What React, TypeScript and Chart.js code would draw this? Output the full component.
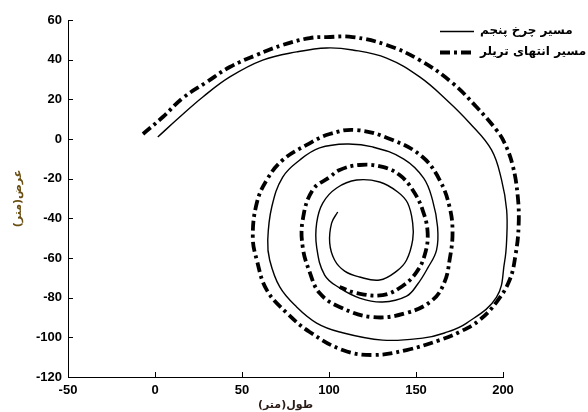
import React, { useEffect, useRef } from "react";
import { Chart, registerables } from "chart.js";

Chart.register(...registerables);

// Axis ticks
const xTickValues = [-50, 0, 50, 100, 150, 200];
const yTickValues = [-120, -100, -80, -60, -40, -20, 0, 20, 40, 60];

// Texts
const seriesLabels = ["مسیر چرخ پنجم", "مسیر انتهای تریلر"];
const xAxisTitle = "طول(متر)";
const yAxisTitle = "عرض(متر)";

// Fifth-wheel path (solid line)
const fifthWheelX = [
  1.6, 14.2, 27.5, 43.0, 61.9, 81.4, 98.7, 113.6, 133.1, 152.1,
  167.6, 180.8, 193.4, 199.2, 202.1, 202.1, 200.9, 196.3, 179.1, 166.4,
  153.8, 130.8, 106.1, 92.9, 81.4, 71.7, 65.9, 64.8, 67.1,
  73.4, 83.2, 94.6, 110.2, 125.1, 143.0, 154.4, 159.5, 162.4, 161.8,
  156.7, 151.0, 144.6, 130.8, 117.6, 106.1, 97.5, 92.9, 92.9, 96.4,
  104.4, 115.9, 129.1, 139.5, 145.2, 148.1, 148.1, 144.6, 138.9, 129.1,
  117.6, 109.0, 103.2, 100.4, 101.5, 105.0,
];
const fifthWheelY = [
  1.0, 11.1, 21.2, 31.3, 39.8, 43.9, 45.9, 44.9, 40.8, 31.3,
  19.7, 8.1, -5.5, -20.7, -35.8, -50.9, -62.0, -79.7, -92.8, -97.8,
  -100.4, -101.4, -97.3, -92.8, -84.7, -74.6, -61.0, -50.9, -34.3,
  -19.2, -10.6, -4.5, -2.5, -4.0, -10.1, -19.7, -30.8, -44.4, -56.0,
  -65.1, -73.1, -79.2, -82.2, -80.2, -75.1, -68.6, -54.5, -42.4, -32.3,
  -24.7, -20.7, -21.7, -26.7, -32.3, -42.4, -50.9, -61.0, -66.6, -71.1,
  -69.6, -66.6, -61.0, -52.4, -42.4, -36.8,
];

// Trailer-end path (dash-dot line)
const trailerX = [
  -6.9, 4.5, 16.0, 29.7, 43.0, 58.5, 73.4, 88.9, 98.7, 113.6,
  133.1, 152.1, 171.0, 184.8, 196.3, 200.9, 205.5, 208.4, 209.0, 207.2,
  203.8, 196.3, 186.5, 175.0, 163.6, 144.6, 125.1, 107.8, 88.9,
  75.7, 64.2, 58.5, 56.2, 58.5, 64.2, 73.4, 87.2, 100.4, 115.9,
  136.6, 153.8, 163.6, 169.3, 171.0, 169.3, 166.4, 159.5, 144.6, 125.1,
  106.1, 94.6, 88.9, 84.9, 84.9, 90.6, 100.4, 106.1, 117.6, 130.8,
  140.6, 148.1, 153.8, 156.7, 155.0, 150.3, 142.3, 130.8, 115.9, 106.1,
];
const trailerY = [
  2.5, 11.1, 20.7, 28.7, 36.3, 42.4, 47.4, 50.9, 51.4, 51.4,
  47.4, 39.8, 28.2, 16.1, 4.5, -2.0, -13.1, -28.2, -43.4, -58.5,
  -71.1, -82.2, -91.3, -97.3, -101.4, -106.4, -108.9, -106.4, -97.3,
  -87.7, -76.1, -61.0, -49.4, -32.3, -20.7, -10.6, -3.0, 2.5, 4.5,
  -0.5, -9.1, -20.7, -34.3, -47.4, -61.0, -72.1, -81.2, -87.7, -89.8,
  -84.7, -77.7, -67.1, -54.5, -40.8, -25.7, -19.2, -15.6, -13.1, -14.1,
  -18.2, -25.7, -35.8, -47.4, -58.5, -67.1, -74.1, -78.7, -77.7, -74.6,
];

const solidDash: number[] = [];
const dashDot = [10, 4, 3, 4];
const RLM = "\u200F";

const toPoints = (xs: number[], ys: number[]) => xs.map((x, i) => ({ x, y: ys[i] }));

const inwardTicks = {
  id: "inwardTicks",
  afterDraw(chart: any) {
    const { ctx, chartArea, scales } = chart;
    ctx.save();
    ctx.strokeStyle = "#000";
    ctx.lineWidth = 1;
    xTickValues.forEach((v) => {
      const px = Math.round(scales.x.getPixelForValue(v)) + 0.5;
      ctx.beginPath();
      ctx.moveTo(px, chartArea.bottom);
      ctx.lineTo(px, chartArea.bottom - 5);
      ctx.stroke();
    });
    yTickValues.forEach((v) => {
      const py = Math.round(scales.y.getPixelForValue(v)) + 0.5;
      ctx.beginPath();
      ctx.moveTo(chartArea.left, py);
      ctx.lineTo(chartArea.left + 5, py);
      ctx.stroke();
    });
    ctx.restore();
  },
};

const customLegend = {
  id: "customLegend",
  afterDraw(chart: any) {
    const { ctx } = chart;
    const rows = [31, 52];
    ctx.save();
    chart.data.datasets.forEach((ds: any, i: number) => {
      const y = rows[i] + 0.5;
      ctx.strokeStyle = "#000";
      ctx.lineWidth = ds.borderWidth;
      ctx.setLineDash(ds.borderDash || []);
      ctx.beginPath();
      ctx.moveTo(440, y);
      ctx.lineTo(474, y);
      ctx.stroke();
      ctx.setLineDash([]);
      ctx.fillStyle = "#000";
      ctx.font = "bold 12px 'DejaVu Sans', sans-serif";
      ctx.textAlign = "left";
      ctx.textBaseline = "middle";
      ctx.fillText(RLM + ds.label + RLM, 480, rows[i]);
    });
    ctx.restore();
  },
};

export default function App() {
  const canvasRef = useRef<HTMLCanvasElement | null>(null);

  useEffect(() => {
    if (!canvasRef.current) return;
    const tickFont = { family: "'Liberation Sans', Arial, sans-serif", size: 13, weight: "bold" as const };
    const chart = new Chart(canvasRef.current, {
      type: "scatter",
      data: {
        datasets: [
          {
            label: seriesLabels[0],
            data: toPoints(fifthWheelX, fifthWheelY),
            showLine: true,
            borderColor: "#000",
            backgroundColor: "#000",
            borderWidth: 1.4,
            borderDash: solidDash,
            pointRadius: 0,
            tension: 0.4,
            fill: false,
            clip: false as any,
          },
          {
            label: seriesLabels[1],
            data: toPoints(trailerX, trailerY),
            showLine: true,
            borderColor: "#000",
            backgroundColor: "#000",
            borderWidth: 3.8,
            borderDash: dashDot,
            pointRadius: 0,
            tension: 0.4,
            fill: false,
            clip: false as any,
          },
        ],
      },
      options: {
        responsive: false,
        maintainAspectRatio: false,
        animation: false,
        devicePixelRatio: 1,
        layout: { padding: { left: 0, top: 20, right: 85, bottom: 0 } },
        plugins: {
          legend: { display: false },
          tooltip: { enabled: false },
        },
        scales: {
          x: {
            type: "linear",
            min: -50,
            max: 200,
            afterBuildTicks: (s: any) => {
              s.ticks = xTickValues.map((v) => ({ value: v }));
            },
            afterFit: (s: any) => {
              s.height = 35;
            },
            ticks: { font: tickFont, color: "#000", padding: 6, maxRotation: 0, autoSkip: false },
            grid: { display: true, drawOnChartArea: false, drawTicks: false },
            border: { display: true, color: "#000", width: 1 },
            title: {
              display: true,
              text: RLM + xAxisTitle + RLM,
              color: "#2b1b17",
              font: { family: "'DejaVu Sans', sans-serif", size: 11, weight: "bold" },
              padding: { top: 0, bottom: 0 },
            },
          },
          y: {
            type: "linear",
            min: -120,
            max: 60,
            afterBuildTicks: (s: any) => {
              s.ticks = yTickValues.map((v) => ({ value: v }));
            },
            afterFit: (s: any) => {
              s.width = 68;
            },
            ticks: { font: tickFont, color: "#000", padding: 6, autoSkip: false },
            grid: { display: true, drawOnChartArea: false, drawTicks: false },
            border: { display: true, color: "#000", width: 1 },
            title: {
              display: true,
              text: RLM + yAxisTitle + RLM,
              color: "#6b4f12",
              font: { family: "'DejaVu Sans', sans-serif", size: 11, weight: "bold" },
              padding: { top: 12, bottom: 0 },
            },
          },
        },
      },
      plugins: [inwardTicks, customLegend],
    });
    return () => chart.destroy();
  }, []);

  return (
    <div style={{ position: "fixed", left: 0, top: 0, width: 588, height: 412, background: "#fff" }}>
      <canvas ref={canvasRef} width={588} height={412} style={{ display: "block" }} />
    </div>
  );
}
